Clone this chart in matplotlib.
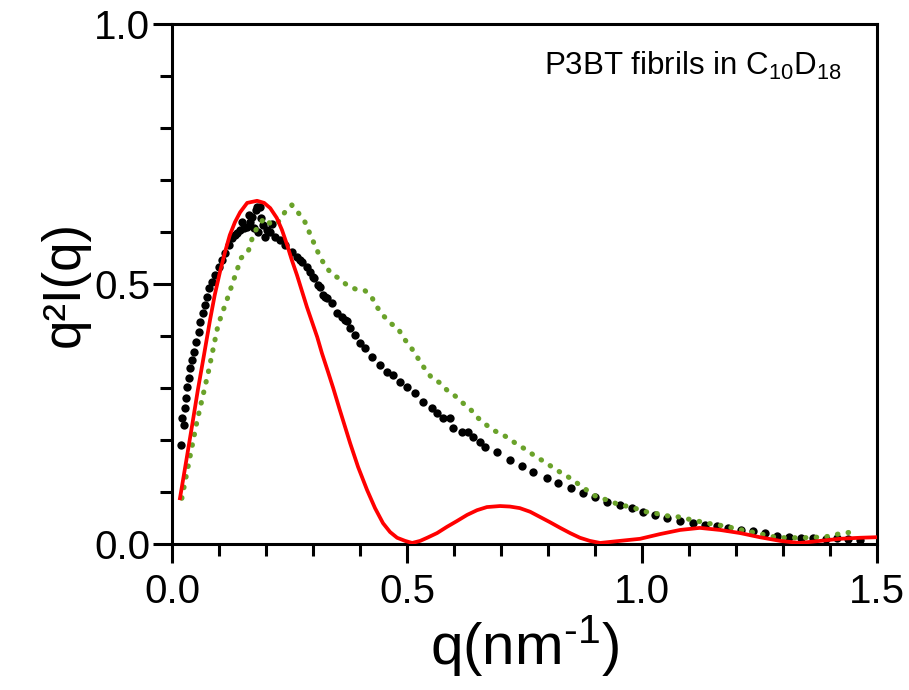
import matplotlib
matplotlib.use("Agg")
import matplotlib.pyplot as plt
from matplotlib.ticker import MultipleLocator, FormatStrFormatter

plt.rcParams["font.family"] = ["Liberation Sans", "DejaVu Sans"]
plt.rcParams["mathtext.fontset"] = "custom"
plt.rcParams["mathtext.rm"] = "Liberation Sans"
plt.rcParams["mathtext.it"] = "Liberation Sans:italic"
plt.rcParams["mathtext.default"] = "regular"

## DATA ##
# measured SAXS data (black dots)
q_data = [0.019, 0.021, 0.026, 0.028, 0.030, 0.032, 0.036, 0.038, 0.043, 0.047,
          0.051, 0.057, 0.060, 0.066, 0.070, 0.074, 0.079, 0.085, 0.091, 0.100,
          0.106, 0.113, 0.121, 0.128, 0.134, 0.138, 0.145, 0.149, 0.153, 0.160,
          0.164, 0.166, 0.170, 0.174, 0.179, 0.181, 0.183, 0.187, 0.189, 0.194,
          0.198, 0.202, 0.209, 0.213, 0.219, 0.230, 0.240, 0.255, 0.266, 0.272,
          0.277, 0.287, 0.294, 0.300, 0.302, 0.311, 0.315, 0.321, 0.326, 0.330,
          0.340, 0.351, 0.362, 0.368, 0.372, 0.379, 0.389, 0.400, 0.411, 0.426,
          0.443, 0.457, 0.470, 0.485, 0.500, 0.517, 0.534, 0.553, 0.564, 0.577,
          0.591, 0.598, 0.617, 0.630, 0.640, 0.655, 0.666, 0.691, 0.719, 0.745,
          0.768, 0.798, 0.821, 0.849, 0.874, 0.900, 0.926, 0.953, 0.979, 1.002,
          1.028, 1.053, 1.081, 1.109, 1.134, 1.160, 1.183, 1.211, 1.236, 1.262,
          1.287, 1.313, 1.338, 1.364, 1.391, 1.415, 1.438, 1.464]
I_data = [0.190, 0.242, 0.229, 0.262, 0.281, 0.302, 0.319, 0.338, 0.354, 0.369,
          0.388, 0.408, 0.427, 0.444, 0.460, 0.475, 0.492, 0.504, 0.517, 0.533,
          0.546, 0.560, 0.575, 0.588, 0.594, 0.598, 0.604, 0.619, 0.608, 0.610,
          0.633, 0.619, 0.629, 0.608, 0.642, 0.648, 0.600, 0.648, 0.627, 0.613,
          0.590, 0.604, 0.600, 0.615, 0.590, 0.585, 0.575, 0.562, 0.552, 0.546,
          0.542, 0.533, 0.523, 0.513, 0.512, 0.498, 0.494, 0.479, 0.475, 0.473,
          0.463, 0.444, 0.437, 0.431, 0.429, 0.415, 0.402, 0.387, 0.377, 0.360,
          0.344, 0.331, 0.325, 0.312, 0.302, 0.290, 0.273, 0.262, 0.252, 0.242,
          0.242, 0.223, 0.215, 0.215, 0.206, 0.196, 0.187, 0.177, 0.162, 0.150,
          0.138, 0.127, 0.117, 0.108, 0.098, 0.090, 0.081, 0.075, 0.069, 0.062,
          0.056, 0.050, 0.044, 0.040, 0.037, 0.035, 0.031, 0.027, 0.025, 0.021,
          0.015, 0.013, 0.012, 0.012, 0.010, 0.012, 0.010, 0.008]

# second data set (green dotted line)
q_green = [0.021, 0.053, 0.077, 0.098, 0.119, 0.140, 0.147, 0.162, 0.174, 0.196,
           0.213, 0.228, 0.240, 0.255, 0.268, 0.283, 0.298, 0.315, 0.326, 0.340,
           0.357, 0.372, 0.391, 0.411, 0.426, 0.436, 0.449, 0.464, 0.481, 0.491,
           0.506, 0.517, 0.528, 0.538, 0.553, 0.570, 0.585, 0.602, 0.619, 0.636,
           0.649, 0.666, 0.683, 0.700, 0.719, 0.736, 0.755, 0.772, 0.789, 0.809,
           0.826, 0.843, 0.862, 0.879, 0.896, 0.915, 0.936, 0.953, 0.979, 0.996,
           1.017, 1.036, 1.055, 1.079, 1.098, 1.119, 1.138, 1.160, 1.183, 1.202,
           1.223, 1.245, 1.264, 1.285, 1.304, 1.326, 1.345, 1.366, 1.387, 1.406,
           1.428, 1.449]
I_green = [0.088, 0.235, 0.329, 0.421, 0.475, 0.531, 0.550, 0.562, 0.598, 0.627,
           0.613, 0.621, 0.638, 0.652, 0.638, 0.619, 0.587, 0.552, 0.535, 0.519,
           0.510, 0.498, 0.490, 0.487, 0.473, 0.456, 0.440, 0.425, 0.415, 0.398,
           0.381, 0.367, 0.350, 0.337, 0.319, 0.310, 0.296, 0.285, 0.271, 0.258,
           0.244, 0.231, 0.219, 0.212, 0.202, 0.190, 0.181, 0.169, 0.160, 0.148,
           0.138, 0.129, 0.117, 0.106, 0.094, 0.088, 0.081, 0.075, 0.071, 0.065,
           0.060, 0.058, 0.054, 0.052, 0.048, 0.044, 0.040, 0.037, 0.033, 0.029,
           0.025, 0.021, 0.017, 0.013, 0.012, 0.012, 0.012, 0.013, 0.013, 0.017,
           0.021, 0.023]

# model fit (red line)
q_fit = [0.017, 0.030, 0.043, 0.055, 0.068, 0.081, 0.091, 0.102, 0.113, 0.123,
         0.134, 0.145, 0.160, 0.181, 0.196, 0.209, 0.223, 0.234, 0.245, 0.255,
         0.266, 0.277, 0.287, 0.298, 0.309, 0.319, 0.332, 0.343, 0.357, 0.379,
         0.396, 0.415, 0.432, 0.449, 0.464, 0.479, 0.496, 0.511, 0.528, 0.543,
         0.564, 0.585, 0.606, 0.628, 0.649, 0.670, 0.698, 0.719, 0.740, 0.762,
         0.783, 0.804, 0.826, 0.847, 0.868, 0.889, 0.911, 0.953, 0.996, 1.038,
         1.081, 1.123, 1.166, 1.209, 1.251, 1.294, 1.336, 1.379, 1.421, 1.464,
         1.498]
I_fit = [0.088, 0.158, 0.229, 0.296, 0.363, 0.431, 0.479, 0.523, 0.562, 0.594,
         0.619, 0.638, 0.656, 0.660, 0.656, 0.646, 0.627, 0.604, 0.575, 0.546,
         0.517, 0.485, 0.456, 0.427, 0.398, 0.367, 0.331, 0.300, 0.258, 0.194,
         0.148, 0.104, 0.069, 0.040, 0.023, 0.012, 0.006, 0.002, 0.006, 0.012,
         0.021, 0.033, 0.044, 0.056, 0.065, 0.071, 0.073, 0.072, 0.069, 0.062,
         0.052, 0.042, 0.031, 0.021, 0.012, 0.006, 0.002, 0.006, 0.010, 0.019,
         0.027, 0.031, 0.027, 0.021, 0.013, 0.006, 0.002, 0.006, 0.010, 0.012,
         0.013]

fig = plt.figure(figsize=(9.09, 6.90), dpi=100)
ax = fig.add_axes([0.1892, 0.2116, 0.7756, 0.7536])

ax.plot(q_data, I_data, "o", color="black", markersize=6, markeredgewidth=0, zorder=2)
ax.plot(q_green, I_green, color="#6aa22a", linewidth=3.7, linestyle=(0, (0.1, 2.0)),
        dash_capstyle="round", zorder=3)
ax.plot(q_fit, I_fit, color="#ff0000", linewidth=2.7, solid_joinstyle="round", zorder=4)

ax.set_xlim(0, 1.5)
ax.set_ylim(0, 1.0)
ax.xaxis.set_major_locator(MultipleLocator(0.5))
ax.xaxis.set_minor_locator(MultipleLocator(0.1))
ax.yaxis.set_major_locator(MultipleLocator(0.5))
ax.yaxis.set_minor_locator(MultipleLocator(0.1))
ax.xaxis.set_major_formatter(FormatStrFormatter("%.1f"))
ax.yaxis.set_major_formatter(FormatStrFormatter("%.1f"))

ax.tick_params(which="both", direction="out", width=2.2, top=False, right=False)
ax.tick_params(which="major", length=14, labelsize=29)
ax.tick_params(which="minor", length=8.5)
ax.tick_params(axis="x", which="major", pad=7)
ax.tick_params(axis="y", which="major", pad=1.5)
for s in ax.spines.values():
    s.set_linewidth(2.2)

ax.set_xlabel("q(nm$^{\\text{-}1}$)", fontsize=42, labelpad=1)
ax.set_ylabel("q²I(q)", fontsize=38, labelpad=3)

ax.text(0.95, 0.95, "P3BT fibrils in C$_{10}$D$_{18}$", transform=ax.transAxes,
        ha="right", va="top", fontsize=22.5)

fig.savefig("out.png", dpi=100)
